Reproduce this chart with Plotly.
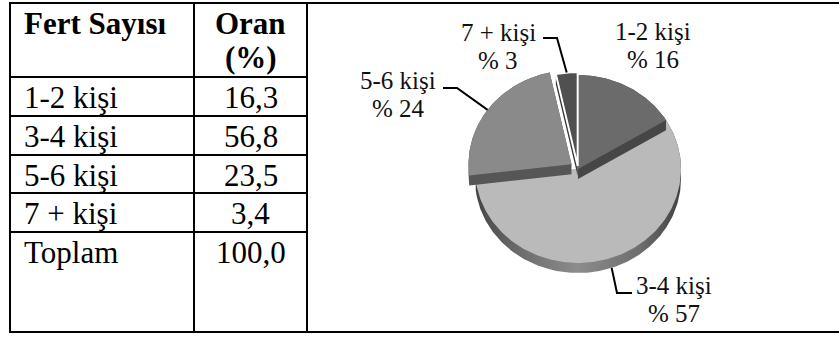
import numpy as np
import plotly.graph_objects as go

# ---- data -------------------------------------------------------------
categories = ["1-2 kişi", "3-4 kişi", "5-6 kişi", "7 + kişi"]
shares = [16.3, 56.8, 23.5, 3.4]          # Oran (%)
header_left = "Fert Sayısı"
header_right = ["Oran", "(%)"]
total_label = "Toplam"

# ---- styling ----------------------------------------------------------
W, H = 839, 342
SERIF = "'Liberation Serif', 'Times New Roman', Times, serif"
TABLE_FONT = 31
LABEL_FONT = 25
BORDER = 2

# table grid (page pixels)
col_x = [10, 194, 307, W + 5]
row_y = [3, 77, 116, 155, 193, 232, 332]

# pseudo-3D pie geometry (page pixels)
CX, CY, RX, RY, DEPTH = 578, 169, 103, 94, 10
top_colors = ["#6b6b6b", "#bababa", "#8a8a8a", "#505050"]
side_colors = ["#464646", None, "#565656", "#383838"]
side_gradient = [[0, "#444444"], [0.2, "#6a6a6a"], [0.5, "#8c8c8c"], [0.8, "#6e6e6e"], [1, "#424242"]]
pull_px = [0, 0, 8, 3]
outline_w = [0, 0, 0, 2]
draw_order = [1, 0, 2, 3]

# label placement: text centre, leader elbow and leader end (None = no leader)
label_pos = [(653, 31), (674, 285), (398, 80), (498, 32)]
leader_elbow = [None, (617, 293), (457, 88), (557, 38)]
leader_end = [None, (632, 293), (443, 88), (543, 38)]
anchor_on_side = [False, True, False, False]
LINE_GAP = 28


def fmt_tr(v):
    return f"{v:.1f}".replace(".", ",")


def hull(points):
    pts = sorted(set((round(x, 3), round(y, 3)) for x, y in points))

    def cross(o, a, b):
        return (a[0] - o[0]) * (b[1] - o[1]) - (a[1] - o[1]) * (b[0] - o[0])

    lower, upper = [], []
    for p in pts:
        while len(lower) >= 2 and cross(lower[-2], lower[-1], p) <= 0:
            lower.pop()
        lower.append(p)
    for p in reversed(pts):
        while len(upper) >= 2 and cross(upper[-2], upper[-1], p) <= 0:
            upper.pop()
        upper.append(p)
    return lower[:-1] + upper[:-1]


total = float(np.sum(shares))
bounds = np.concatenate([[0.0], np.cumsum(shares)]) / total * 360.0


def offset(i):
    mid = np.radians((bounds[i] + bounds[i + 1]) / 2)
    return pull_px[i] * np.sin(mid), -pull_px[i] * np.cos(mid)


def wedge(a0, a1, dx, dy):
    n = max(2, int(abs(a1 - a0)) + 1)
    t = np.radians(np.linspace(a0, a1, n))
    xs = CX + dx + RX * np.sin(t)
    ys = CY + dy - RY * np.cos(t)
    return [(CX + dx, CY + dy)] + list(zip(xs, ys))


fig = go.Figure()

for i in draw_order:
    a0, a1 = bounds[i], bounds[i + 1]
    dx, dy = offset(i)
    # side walls: sweep each convex sub-wedge downwards by DEPTH
    cuts = np.linspace(a0, a1, int(np.ceil((a1 - a0) / 90.0)) + 1)
    for s0, s1 in zip(cuts[:-1], cuts[1:]):
        pts = wedge(s0, s1, dx, dy)
        poly = hull(pts + [(x, y + DEPTH) for x, y in pts])
        poly.append(poly[0])
        kw = dict(fillcolor=side_colors[i]) if side_colors[i] else dict(
            fillgradient=dict(type="horizontal", colorscale=side_gradient,
                              start=CX - RX, stop=CX + RX))
        fig.add_trace(go.Scatter(
            x=[p[0] for p in poly], y=[p[1] for p in poly], mode="lines",
            fill="toself", line=dict(width=0), hoverinfo="skip", **kw))
    # top face
    pts = wedge(a0, a1, dx, dy)
    pts.append(pts[0])
    fig.add_trace(go.Scatter(
        x=[p[0] for p in pts], y=[p[1] for p in pts], mode="lines",
        fill="toself", fillcolor=top_colors[i],
        line=dict(width=outline_w[i], color="white"),
        name=categories[i], hoverinfo="name"))

# slice labels with leader lines
annotations = []
for i, cat in enumerate(categories):
    lx, ly = label_pos[i]
    pct = int(shares[i] / total * 100 + 0.5)
    annotations.append(dict(x=lx, y=ly, text=cat, showarrow=False,
                            font=dict(family=SERIF, size=LABEL_FONT, color="#111")))
    annotations.append(dict(x=lx, y=ly + LINE_GAP, text=f"% {pct}", showarrow=False,
                            font=dict(family=SERIF, size=LABEL_FONT, color="#111")))
    if leader_elbow[i] is not None:
        mid = np.radians((bounds[i] + bounds[i + 1]) / 2)
        dx, dy = offset(i)
        ax = CX + dx + RX * np.sin(mid)
        ay = CY + dy - RY * np.cos(mid) + (DEPTH if anchor_on_side[i] else 0)
        ex, ey = leader_elbow[i]
        tx, ty = leader_end[i]
        fig.add_trace(go.Scatter(x=[ax, ex, tx], y=[ay, ey, ty], mode="lines",
                                 line=dict(color="black", width=2), hoverinfo="skip"))

# table text
cell_font = dict(family=SERIF, size=TABLE_FONT, color="black")
col2_mid = (col_x[1] + col_x[2]) / 2
text_x = col_x[0] + 12


def row_mid(k):
    return row_y[k] + 20


annotations.append(dict(x=text_x, y=row_mid(0), text=f"<b>{header_left}</b>",
                        xanchor="left", showarrow=False, font=cell_font))
annotations.append(dict(x=col2_mid, y=row_mid(0), text=f"<b>{header_right[0]}</b>",
                        showarrow=False, font=cell_font))
annotations.append(dict(x=col2_mid, y=row_mid(0) + 34, text=f"<b>{header_right[1]}</b>",
                        showarrow=False, font=cell_font))
for k, (cat, v) in enumerate(zip(categories, shares), start=1):
    annotations.append(dict(x=text_x, y=row_mid(k), text=cat, xanchor="left",
                            showarrow=False, font=cell_font))
    annotations.append(dict(x=col2_mid, y=row_mid(k), text=fmt_tr(v),
                            showarrow=False, font=cell_font))
k = len(categories) + 1
annotations.append(dict(x=text_x, y=row_mid(k), text=total_label, xanchor="left",
                        showarrow=False, font=cell_font))
annotations.append(dict(x=col2_mid, y=row_mid(k), text=fmt_tr(total),
                        showarrow=False, font=cell_font))
for a in annotations:
    a.update(xref="x", yref="y")

# table rules
shapes = []
line = dict(color="black", width=BORDER)
shapes.append(dict(type="line", x0=col_x[0] - 1, x1=col_x[-1], y0=row_y[0], y1=row_y[0], line=line))
shapes.append(dict(type="line", x0=col_x[0] - 1, x1=col_x[-1], y0=row_y[-1], y1=row_y[-1], line=line))
for yy in row_y[1:-1]:
    shapes.append(dict(type="line", x0=col_x[0], x1=col_x[2], y0=yy, y1=yy, line=line))
for xx in col_x[:3]:
    shapes.append(dict(type="line", x0=xx, x1=xx, y0=row_y[0], y1=row_y[-1], line=line))
for s in shapes:
    s.update(xref="x", yref="y", layer="above")

fig.update_layout(
    width=W, height=H, margin=dict(l=0, r=0, t=0, b=0),
    paper_bgcolor="white", plot_bgcolor="white", showlegend=False,
    xaxis=dict(range=[0, W], visible=False, fixedrange=True),
    yaxis=dict(range=[H, 0], visible=False, fixedrange=True),
    annotations=annotations, shapes=shapes, hovermode=False,
)

fig.write_html("out.html")
